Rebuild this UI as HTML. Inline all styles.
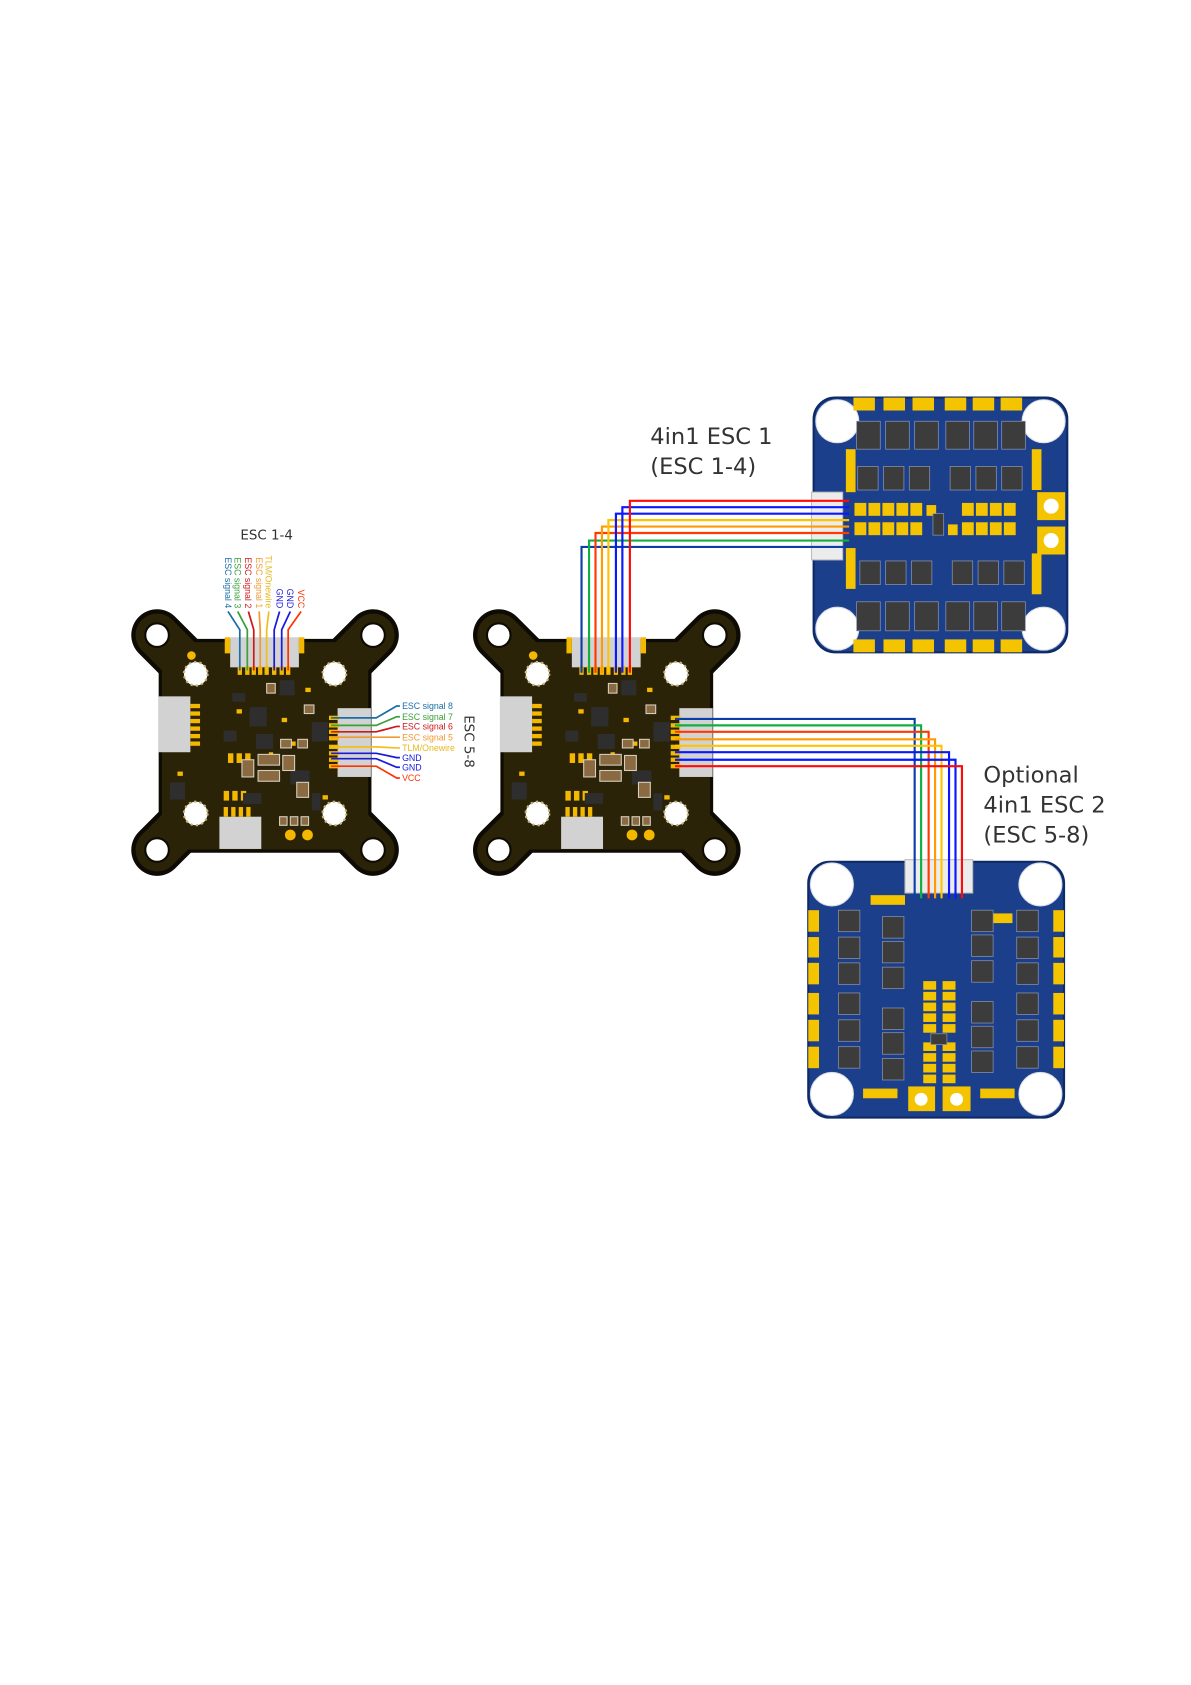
<!DOCTYPE html>
<html><head><meta charset="utf-8"><style>
html,body{margin:0;padding:0;background:#fff}
svg{display:block}
</style></head><body>
<svg width="1191" height="1685" viewBox="0 0 1108 1568" xmlns="http://www.w3.org/2000/svg">
<defs>
<g id="fc">
  <g stroke="#0d0b04" stroke-width="48" stroke-linecap="round">
    <line x1="146" y1="591" x2="200" y2="645"/>
    <line x1="347" y1="591" x2="293" y2="645"/>
    <line x1="146" y1="791" x2="200" y2="737"/>
    <line x1="347" y1="791" x2="293" y2="737"/>
  </g>
  <rect x="149" y="596" width="195" height="196" rx="22" fill="#2b2308" stroke="#0d0b04" stroke-width="3"/>
  <g stroke="#2b2308" stroke-width="40" stroke-linecap="round">
    <line x1="146" y1="591" x2="200" y2="645"/>
    <line x1="347" y1="591" x2="293" y2="645"/>
    <line x1="146" y1="791" x2="200" y2="737"/>
    <line x1="347" y1="791" x2="293" y2="737"/>
  </g>
  <g fill="#fff" stroke="#0d0b04" stroke-width="2">
    <circle cx="146" cy="591" r="11"/><circle cx="347" cy="591" r="11"/>
    <circle cx="146" cy="791" r="11"/><circle cx="347" cy="791" r="11"/>
  </g>
  <g fill="#fff" stroke="#c9b77a" stroke-width="2" stroke-dasharray="2 3">
    <circle cx="182" cy="627" r="11"/><circle cx="311" cy="627" r="11"/>
    <circle cx="182" cy="757" r="11"/><circle cx="311" cy="757" r="11"/>
  </g>
  <rect x="214" y="593" width="64" height="28" fill="#d2d2d2"/>
  <rect x="209" y="593" width="5" height="15" fill="#f5b800"/><rect x="278" y="593" width="5" height="15" fill="#f5b800"/>
  <rect x="147" y="648" width="30" height="52" fill="#d2d2d2"/>
  <rect x="314" y="659" width="31" height="64" fill="#d2d2d2"/>
  <rect x="204" y="760" width="39" height="30" fill="#d2d2d2"/>
  <g fill="#f5b800">
    <rect x="221" y="620" width="4" height="8"/><rect x="228" y="620" width="4" height="8"/><rect x="234" y="620" width="4" height="8"/><rect x="240" y="620" width="4" height="8"/><rect x="246" y="620" width="4" height="8"/><rect x="253" y="620" width="4" height="8"/><rect x="260" y="620" width="4" height="8"/><rect x="266" y="620" width="4" height="8"/>
    <rect x="177" y="655" width="9" height="4"/><rect x="177" y="662" width="9" height="4"/><rect x="177" y="669" width="9" height="4"/><rect x="177" y="676" width="9" height="4"/><rect x="177" y="683" width="9" height="4"/><rect x="177" y="690" width="9" height="4"/>
    <rect x="306" y="666" width="9" height="4"/><rect x="306" y="673" width="9" height="4"/><rect x="306" y="679" width="9" height="4"/><rect x="306" y="685" width="9" height="4"/><rect x="306" y="693" width="9" height="4"/><rect x="306" y="699" width="9" height="4"/><rect x="306" y="705" width="9" height="4"/><rect x="306" y="711" width="9" height="4"/>
    <rect x="208" y="751" width="4" height="9"/><rect x="215" y="751" width="4" height="9"/><rect x="222" y="751" width="4" height="9"/><rect x="229" y="751" width="4" height="9"/>
    <rect x="212" y="701" width="5" height="9"/><rect x="220" y="701" width="5" height="9"/><rect x="228" y="701" width="5" height="9"/>
    <rect x="208" y="736" width="5" height="9"/><rect x="216" y="736" width="5" height="9"/><rect x="224" y="736" width="5" height="9"/>
    <circle cx="178" cy="610" r="4"/><circle cx="270" cy="777" r="5"/><circle cx="286" cy="777" r="5"/>
    <rect x="284" y="640" width="5" height="4"/><rect x="262" y="668" width="5" height="4"/><rect x="270" y="690" width="5" height="4"/><rect x="250" y="700" width="4" height="5"/>
    <rect x="165" y="718" width="5" height="4"/><rect x="220" y="660" width="5" height="4"/><rect x="300" y="740" width="5" height="4"/>
  </g>
  <g fill="#2e2e2e">
    <rect x="232" y="658" width="16" height="18"/><rect x="260" y="633" width="14" height="14"/><rect x="290" y="672" width="15" height="18"/>
    <rect x="238" y="683" width="16" height="14"/><rect x="270" y="717" width="18" height="13"/><rect x="158" y="728" width="14" height="16"/>
    <rect x="226" y="738" width="17" height="10"/><rect x="208" y="680" width="12" height="10"/><rect x="290" y="738" width="8" height="16"/>
    <rect x="216" y="645" width="12" height="8"/>
  </g>
  <g fill="#8b6a42" stroke="#d5cfc0" stroke-width="1">
    <rect x="240" y="702" width="20" height="10"/><rect x="240" y="717" width="20" height="10"/><rect x="225" y="707" width="11" height="16"/>
    <rect x="263" y="703" width="11" height="14"/><rect x="276" y="728" width="11" height="14"/><rect x="248" y="636" width="8" height="9"/>
    <rect x="260" y="760" width="7" height="8"/><rect x="270" y="760" width="7" height="8"/><rect x="280" y="760" width="7" height="8"/>
    <rect x="261" y="688" width="10" height="8"/><rect x="277" y="688" width="9" height="8"/><rect x="283" y="656" width="9" height="8"/>
  </g>
</g>
<g id="esc1">
  <rect x="757" y="370" width="236" height="237" rx="20" fill="#1c3f8c" stroke="#0e2a66" stroke-width="2"/>
  <g fill="#fff" stroke="#d9dde6" stroke-width="1">
    <circle cx="779" cy="392" r="20"/><circle cx="971" cy="392" r="20"/><circle cx="779" cy="585" r="20"/><circle cx="971" cy="585" r="20"/>
  </g>
  <g fill="#f5c400">
    <rect x="794" y="370" width="20" height="12"/><rect x="822" y="370" width="20" height="12"/><rect x="849" y="370" width="20" height="12"/><rect x="879" y="370" width="20" height="12"/><rect x="905" y="370" width="20" height="12"/><rect x="931" y="370" width="20" height="12"/>
    <rect x="794" y="595" width="20" height="12"/><rect x="822" y="595" width="20" height="12"/><rect x="849" y="595" width="20" height="12"/><rect x="879" y="595" width="20" height="12"/><rect x="905" y="595" width="20" height="12"/><rect x="931" y="595" width="20" height="12"/>
    <rect x="965" y="458" width="26" height="26"/><rect x="965" y="490" width="26" height="26"/>
    <rect x="795" y="468" width="11" height="12"/><rect x="808" y="468" width="11" height="12"/><rect x="821" y="468" width="11" height="12"/><rect x="834" y="468" width="11" height="12"/><rect x="847" y="468" width="11" height="12"/>
    <rect x="795" y="486" width="11" height="12"/><rect x="808" y="486" width="11" height="12"/><rect x="821" y="486" width="11" height="12"/><rect x="834" y="486" width="11" height="12"/><rect x="847" y="486" width="11" height="12"/>
    <rect x="895" y="468" width="11" height="12"/><rect x="908" y="468" width="11" height="12"/><rect x="921" y="468" width="11" height="12"/><rect x="934" y="468" width="11" height="12"/>
    <rect x="895" y="486" width="11" height="12"/><rect x="908" y="486" width="11" height="12"/><rect x="921" y="486" width="11" height="12"/><rect x="934" y="486" width="11" height="12"/>
    <rect x="787" y="418" width="9" height="40"/><rect x="787" y="510" width="9" height="38"/>
    <rect x="960" y="418" width="9" height="38"/><rect x="960" y="515" width="9" height="38"/>
    <rect x="862" y="470" width="9" height="10"/><rect x="882" y="488" width="9" height="10"/>
  </g>
  <g fill="#fff"><circle cx="978" cy="471" r="7"/><circle cx="978" cy="503" r="7"/></g>
  <g fill="#3c3c3c" stroke="#8a92a8" stroke-width="0.7">
    <rect x="797" y="392" width="22" height="26"/><rect x="824" y="392" width="22" height="26"/><rect x="851" y="392" width="22" height="26"/><rect x="880" y="392" width="22" height="26"/><rect x="906" y="392" width="22" height="26"/><rect x="932" y="392" width="22" height="26"/>
    <rect x="797" y="560" width="22" height="27"/><rect x="824" y="560" width="22" height="27"/><rect x="851" y="560" width="22" height="27"/><rect x="880" y="560" width="22" height="27"/><rect x="906" y="560" width="22" height="27"/><rect x="932" y="560" width="22" height="27"/>
    <rect x="798" y="434" width="19" height="22"/><rect x="822" y="434" width="19" height="22"/><rect x="846" y="434" width="19" height="22"/>
    <rect x="884" y="434" width="19" height="22"/><rect x="908" y="434" width="19" height="22"/><rect x="932" y="434" width="19" height="22"/>
    <rect x="800" y="522" width="19" height="22"/><rect x="824" y="522" width="19" height="22"/><rect x="848" y="522" width="19" height="22"/>
    <rect x="886" y="522" width="19" height="22"/><rect x="910" y="522" width="19" height="22"/><rect x="934" y="522" width="19" height="22"/>
    <rect x="868" y="478" width="10" height="20"/>
  </g>
  <rect x="755" y="458" width="29" height="63" fill="#ececec" stroke="#bbb"/>
</g>
<g id="esc2">
  <rect x="752" y="802" width="238" height="238" rx="20" fill="#1c3f8c" stroke="#0e2a66" stroke-width="2"/>
  <g fill="#fff" stroke="#d9dde6" stroke-width="1">
    <circle cx="774" cy="823" r="20"/><circle cx="968" cy="823" r="20"/><circle cx="774" cy="1018" r="20"/><circle cx="968" cy="1018" r="20"/>
  </g>
  <g fill="#f5c400">
    <rect x="752" y="847" width="10" height="20"/><rect x="752" y="872" width="10" height="19"/><rect x="752" y="896" width="10" height="20"/><rect x="752" y="924" width="10" height="20"/><rect x="752" y="949" width="10" height="20"/><rect x="752" y="974" width="10" height="20"/>
    <rect x="980" y="847" width="10" height="20"/><rect x="980" y="872" width="10" height="19"/><rect x="980" y="896" width="10" height="20"/><rect x="980" y="924" width="10" height="20"/><rect x="980" y="949" width="10" height="20"/><rect x="980" y="974" width="10" height="20"/>
    <rect x="845" y="1011" width="25" height="23"/><rect x="877" y="1011" width="26" height="23"/>
    <rect x="859" y="913" width="12" height="8"/><rect x="859" y="923" width="12" height="8"/><rect x="859" y="933" width="12" height="8"/><rect x="859" y="943" width="12" height="8"/><rect x="859" y="953" width="12" height="8"/>
    <rect x="877" y="913" width="12" height="8"/><rect x="877" y="923" width="12" height="8"/><rect x="877" y="933" width="12" height="8"/><rect x="877" y="943" width="12" height="8"/><rect x="877" y="953" width="12" height="8"/>
    <rect x="859" y="970" width="12" height="8"/><rect x="859" y="980" width="12" height="8"/><rect x="859" y="990" width="12" height="8"/><rect x="859" y="1000" width="12" height="8"/>
    <rect x="877" y="970" width="12" height="8"/><rect x="877" y="980" width="12" height="8"/><rect x="877" y="990" width="12" height="8"/><rect x="877" y="1000" width="12" height="8"/>
    <rect x="803" y="1013" width="32" height="9"/><rect x="912" y="1013" width="32" height="9"/>
    <rect x="810" y="833" width="32" height="9"/><rect x="910" y="850" width="32" height="9"/>
  </g>
  <g fill="#fff"><circle cx="857" cy="1023" r="6"/><circle cx="890" cy="1023" r="6"/></g>
  <g fill="#3c3c3c" stroke="#8a92a8" stroke-width="0.7">
    <rect x="780" y="847" width="20" height="20"/><rect x="780" y="872" width="20" height="20"/><rect x="780" y="896" width="20" height="20"/><rect x="780" y="924" width="20" height="20"/><rect x="780" y="949" width="20" height="20"/><rect x="780" y="974" width="20" height="20"/>
    <rect x="946" y="847" width="20" height="20"/><rect x="946" y="872" width="20" height="20"/><rect x="946" y="896" width="20" height="20"/><rect x="946" y="924" width="20" height="20"/><rect x="946" y="949" width="20" height="20"/><rect x="946" y="974" width="20" height="20"/>
    <rect x="821" y="853" width="20" height="20"/><rect x="821" y="876" width="20" height="20"/><rect x="821" y="900" width="20" height="20"/>
    <rect x="821" y="938" width="20" height="20"/><rect x="821" y="961" width="20" height="20"/><rect x="821" y="985" width="20" height="20"/>
    <rect x="904" y="847" width="20" height="20"/><rect x="904" y="870" width="20" height="20"/><rect x="904" y="894" width="20" height="20"/>
    <rect x="904" y="932" width="20" height="20"/><rect x="904" y="955" width="20" height="20"/><rect x="904" y="978" width="20" height="20"/>
    <rect x="866" y="962" width="15" height="10"/>
  </g>
  <rect x="842" y="800" width="63" height="31" fill="#ececec" stroke="#bbb"/>
</g>
</defs>

<use href="#fc"/>
<use href="#fc" x="318"/>
<use href="#esc1"/>
<use href="#esc2"/>

<g font-family="'DejaVu Sans','Liberation Sans',sans-serif" fill="#333">
  <text x="248" y="502" font-size="12.5" text-anchor="middle">ESC 1-4</text>
  <text transform="translate(432,690) rotate(90)" font-size="12.5" text-anchor="middle">ESC 5-8</text>
  <text x="605" y="413" font-size="21">4in1 ESC 1</text>
  <text x="605" y="441" font-size="21">(ESC 1-4)</text>
  <text x="915" y="728" font-size="21">Optional</text>
  <text x="915" y="756" font-size="21">4in1 ESC 2</text>
  <text x="915" y="784" font-size="21">(ESC 5-8)</text>
</g>

<g font-family="'Liberation Sans',sans-serif" font-size="8.2" text-anchor="end">
  <text transform="translate(209,566) rotate(90)" fill="#1a6ea8">ESC signal 4</text>
  <text transform="translate(218,566) rotate(90)" fill="#3aa03a">ESC signal 3</text>
  <text transform="translate(228,566) rotate(90)" fill="#cc1a1a">ESC signal 2</text>
  <text transform="translate(238,566) rotate(90)" fill="#f09a30">ESC signal 1</text>
  <text transform="translate(247,566) rotate(90)" fill="#e8b820">TLM/Onewire</text>
  <text transform="translate(257,566) rotate(90)" fill="#1a1adc">GND</text>
  <text transform="translate(267,566) rotate(90)" fill="#1a1adc">GND</text>
  <text transform="translate(277,566) rotate(90)" fill="#ff3300">VCC</text>
</g>
<g fill="none" stroke-width="1.6">
  <polyline points="212,569 223,586 223,624" stroke="#1a6ea8"/>
  <polyline points="221,569 230,586 230,624" stroke="#3aa03a"/>
  <polyline points="231,569 236,586 236,624" stroke="#cc1a1a"/>
  <polyline points="241,569 242,586 242,624" stroke="#f09a30"/>
  <polyline points="250,569 248,586 248,624" stroke="#f0c020"/>
  <polyline points="260,569 255,586 255,624" stroke="#1a1adc"/>
  <polyline points="270,569 262,586 262,624" stroke="#1a1adc"/>
  <polyline points="280,569 268,586 268,624" stroke="#ff3300"/>
</g>
<g fill="none" stroke-width="1.6">
  <polyline points="308,668 350,668 369,657 372,657" stroke="#1a6ea8"/>
  <polyline points="308,675 350,675 369,667 372,667" stroke="#3aa03a"/>
  <polyline points="308,681 350,681 369,676 372,676" stroke="#cc1a1a"/>
  <polyline points="308,686 350,686 369,686 372,686" stroke="#f09a30"/>
  <polyline points="308,695 350,695 369,696 372,696" stroke="#f0c020"/>
  <polyline points="308,701 350,701 369,705 372,705" stroke="#1a1adc"/>
  <polyline points="308,706 350,706 369,714 372,714" stroke="#1a1adc"/>
  <polyline points="308,713 350,713 369,724 372,724" stroke="#ff3300"/>
</g>
<g font-family="'Liberation Sans',sans-serif" font-size="8.2">
  <text x="374" y="660" fill="#1a6ea8">ESC signal 8</text>
  <text x="374" y="670" fill="#3aa03a">ESC signal 7</text>
  <text x="374" y="679" fill="#cc1a1a">ESC signal 6</text>
  <text x="374" y="689" fill="#f09a30">ESC signal 5</text>
  <text x="374" y="699" fill="#e8b820">TLM/Onewire</text>
  <text x="374" y="708" fill="#1a1adc">GND</text>
  <text x="374" y="717" fill="#1a1adc">GND</text>
  <text x="374" y="727" fill="#ff3300">VCC</text>
</g>

<g fill="none" stroke-width="2">
  <polyline points="541,626 541,509 790,509" stroke="#0a3ea8"/>
  <polyline points="548,626 548,503 790,503" stroke="#10b040"/>
  <polyline points="554,626 554,496 790,496" stroke="#ff3a00"/>
  <polyline points="560,626 560,490 790,490" stroke="#ff9a00"/>
  <polyline points="566,626 566,484 790,484" stroke="#ffc400"/>
  <polyline points="573,626 573,478 790,478" stroke="#0a18ff"/>
  <polyline points="579,626 579,472 790,472" stroke="#0a18ff"/>
  <polyline points="586,626 586,466 790,466" stroke="#ff0a0a"/>
</g>
<g fill="none" stroke-width="2">
  <polyline points="628,669 851,669 851,836" stroke="#0a3ea8"/>
  <polyline points="628,675 857,675 857,836" stroke="#10b040"/>
  <polyline points="628,681 864,681 864,836" stroke="#ff3a00"/>
  <polyline points="628,688 870,688 870,836" stroke="#ff9a00"/>
  <polyline points="628,694 876,694 876,836" stroke="#ffc400"/>
  <polyline points="628,700 883,700 883,836" stroke="#0a18ff"/>
  <polyline points="628,707 889,707 889,836" stroke="#0a18ff"/>
  <polyline points="628,713 895,713 895,836" stroke="#ff0a0a"/>
</g>
</svg>
</body></html>
